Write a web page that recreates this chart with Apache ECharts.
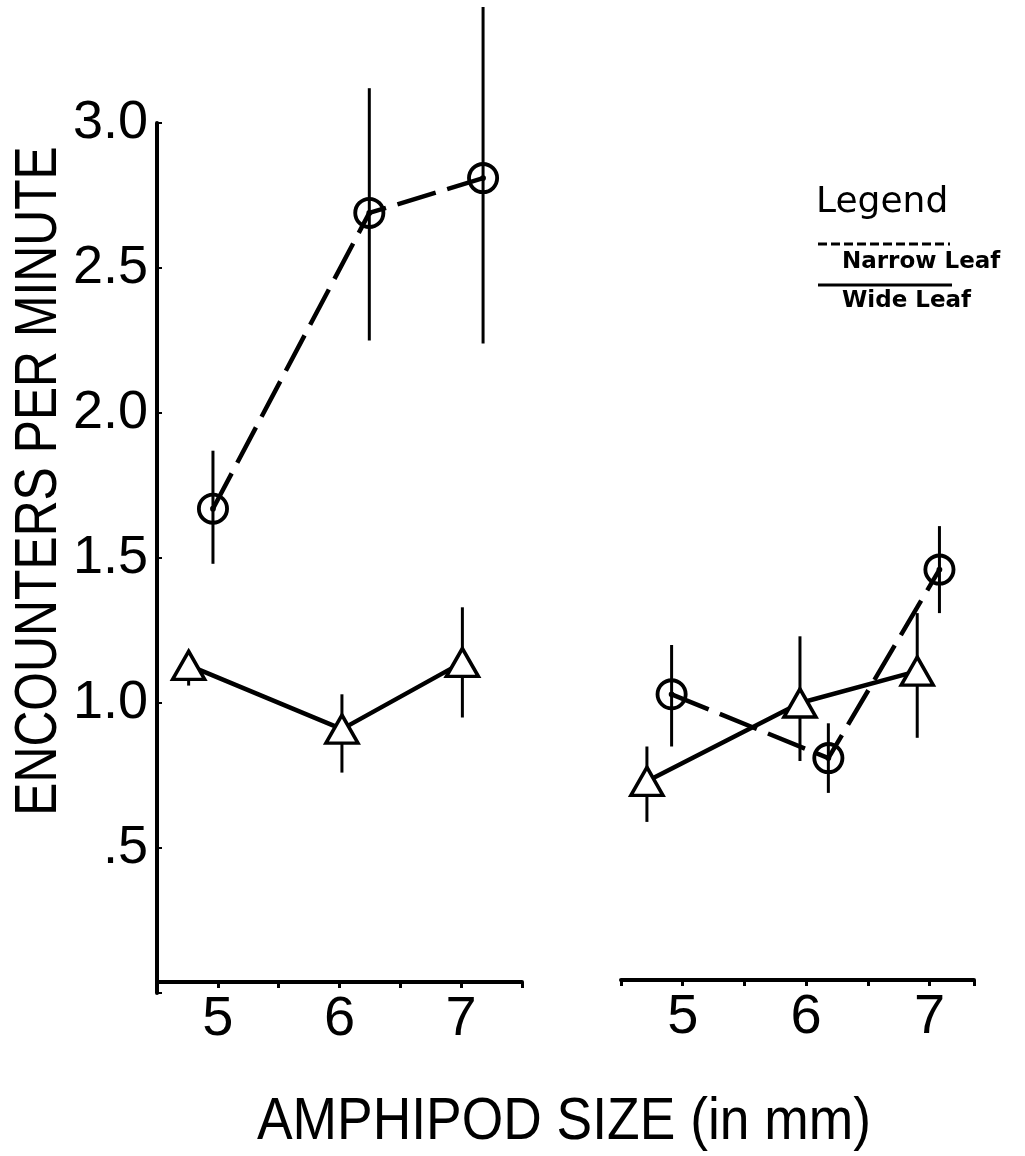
<!DOCTYPE html>
<html>
<head>
<meta charset="utf-8">
<script src="https://cdn.jsdelivr.net/npm/echarts@6/dist/echarts.min.js"></script>
<style>
  html, body { margin: 0; padding: 0; background: #fff; }
  #chart { width: 1025px; height: 1156px; }
</style>
</head>
<body>
<div id="chart"></div>
<script>
// ---- Data ----
var yTickValues = [0.5, 1.0, 1.5, 2.0, 2.5, 3.0];
var xTickLabels = [5, 6, 7];

// Left panel
var narrowLeftX    = [4.96, 6.245, 7.18];
var narrowLeftY    = [1.67, 2.69, 2.81];
var narrowLeftLow  = [1.48, 2.25, 2.24];
var narrowLeftHigh = [1.87, 3.12, 3.40];

var wideLeftX    = [4.76, 6.02, 7.01];
var wideLeftY    = [1.13, 0.91, 1.14];
var wideLeftLow  = [1.06, 0.76, 0.95];
var wideLeftHigh = [1.18, 1.03, 1.33];

// Right panel
var narrowRightX    = [4.91, 6.18, 7.08];
var narrowRightY    = [1.03, 0.81, 1.46];
var narrowRightLow  = [0.85, 0.69, 1.31];
var narrowRightHigh = [1.20, 0.93, 1.61];

var wideRightX    = [4.71, 5.95, 6.90];
var wideRightY    = [0.73, 1.00, 1.11];
var wideRightLow  = [0.59, 0.80, 0.88];
var wideRightHigh = [0.85, 1.23, 1.31];

var yTitle = 'ENCOUNTERS PER MINUTE';
var xTitle = 'AMPHIPOD SIZE (in mm)';
var legendTitle = 'Legend';
var narrowName = 'Narrow Leaf';
var wideName = 'Wide Leaf';

// ---- Build ----
var MAIN_FONT = "'Liberation Sans', Arial, Helvetica, sans-serif";
var LEGEND_FONT = "'DejaVu Sans', 'Liberation Sans', sans-serif";

function pts(xs, ys) { return xs.map(function (x, i) { return [x, ys[i]]; }); }
function bars(xs, lo, hi) { return xs.map(function (x, i) { return [x, lo[i], hi[i]]; }); }

var circlePath = 'path://M50,0A50,50,0,1,1,50,100A50,50,0,1,1,50,0Z' +
                 'M50,12A38,38,0,1,0,50,88A38,38,0,1,0,50,12Z' +
                 'M50,41A9,9,0,1,1,50,59A9,9,0,1,1,50,41Z';

function errRender(params, api) {
  var x = api.value(0), lo = api.value(1), hi = api.value(2);
  var p1 = api.coord([x, lo]);
  var p2 = api.coord([x, hi]);
  return {
    type: 'line',
    shape: { x1: p1[0], y1: p1[1], x2: p2[0], y2: p2[1] },
    style: { stroke: '#000', lineWidth: 3 }
  };
}

function intLabel(v) {
  var r = Math.round(v);
  return (Math.abs(v - r) < 1e-6 && xTickLabels.indexOf(r) >= 0) ? String(r) : '';
}
function yLabel(v) {
  if (yTickValues.indexOf(Math.round(v * 10) / 10) < 0) return '';
  if (Math.abs(v - 0.5) < 1e-6) return '.5';
  return v.toFixed(1);
}

function narrowSeries(idx, data) {
  return {
    type: 'line', xAxisIndex: idx, yAxisIndex: idx, data: data,
    symbol: circlePath, symbolSize: 32, z: 3,
    itemStyle: { color: '#000' },
    lineStyle: { color: '#000', width: 4.5, type: [40, 12] },
    emphasis: { disabled: true }
  };
}
function wideSeries(idx, data) {
  return {
    type: 'line', xAxisIndex: idx, yAxisIndex: idx, data: data,
    symbol: 'triangle', symbolSize: [32, 28], z: 4,
    itemStyle: { color: '#fff', borderColor: '#000', borderWidth: 3.5 },
    lineStyle: { color: '#000', width: 4.5, type: 'solid' },
    emphasis: { disabled: true }
  };
}
function errSeries(idx, data) {
  return {
    type: 'custom', xAxisIndex: idx, yAxisIndex: idx, data: data,
    renderItem: errRender, encode: { x: 0, y: [1, 2] }, z: 2, clip: false
  };
}

var chart = echarts.init(document.getElementById('chart'), null, { renderer: 'canvas' });

var xLabelStyle = { formatter: intLabel, margin: 10, color: '#000', fontSize: 56, fontFamily: MAIN_FONT };

var option = {
  animation: false,
  backgroundColor: '#fff',
  grid: [
    { left: 157, top: 123, width: 365, height: 870, containLabel: false, outerBoundsMode: 'none' },
    { left: 621, top: 123, width: 353, height: 870, containLabel: false, outerBoundsMode: 'none' }
  ],
  xAxis: [
    {
      gridIndex: 0, type: 'value', min: 4.5, max: 7.5, interval: 0.5, offset: -11,
      axisLine: { onZero: false, lineStyle: { color: '#000', width: 4 } },
      axisTick: { show: true, inside: false, length: 6, lineStyle: { color: '#000', width: 3 } },
      axisLabel: xLabelStyle,
      splitLine: { show: false }
    },
    {
      gridIndex: 1, type: 'value', min: 4.5, max: 7.36, interval: 0.5, offset: -13,
      axisLine: { onZero: false, lineStyle: { color: '#000', width: 4 } },
      axisTick: { show: true, inside: false, length: 6, lineStyle: { color: '#000', width: 3 } },
      axisLabel: xLabelStyle,
      splitLine: { show: false }
    }
  ],
  yAxis: [
    {
      gridIndex: 0, type: 'value', min: 0, max: 3, interval: 0.5,
      axisLine: { show: true, onZero: false, lineStyle: { color: '#000', width: 4 } },
      axisTick: { show: true, inside: true, length: 5, lineStyle: { color: '#000', width: 2 } },
      axisLabel: { formatter: yLabel, margin: 9, color: '#000', fontSize: 54, fontFamily: MAIN_FONT },
      splitLine: { show: false }
    },
    {
      gridIndex: 1, type: 'value', min: 0, max: 3, interval: 0.5, show: false,
      splitLine: { show: false }
    }
  ],
  series: [
    errSeries(0, bars(narrowLeftX, narrowLeftLow, narrowLeftHigh)),
    errSeries(0, bars(wideLeftX, wideLeftLow, wideLeftHigh)),
    errSeries(1, bars(narrowRightX, narrowRightLow, narrowRightHigh)),
    errSeries(1, bars(wideRightX, wideRightLow, wideRightHigh)),
    narrowSeries(0, pts(narrowLeftX, narrowLeftY)),
    wideSeries(0, pts(wideLeftX, wideLeftY)),
    narrowSeries(1, pts(narrowRightX, narrowRightY)),
    wideSeries(1, pts(wideRightX, wideRightY))
  ],
  graphic: [
    {
      type: 'text', x: 39, y: 481, rotation: Math.PI / 2, scaleX: 0.83, scaleY: 1,
      style: { text: yTitle, font: '60px ' + MAIN_FONT, fill: '#000', textAlign: 'center', textVerticalAlign: 'middle' }
    },
    {
      type: 'text', x: 564, y: 1122, scaleX: 0.89, scaleY: 1,
      style: { text: xTitle, font: '60px ' + MAIN_FONT, fill: '#000', textAlign: 'center', textVerticalAlign: 'middle' }
    },
    {
      type: 'text', x: 816, y: 203,
      style: { text: legendTitle, font: '36px ' + LEGEND_FONT, fill: '#000', textAlign: 'left', textVerticalAlign: 'middle' }
    },
    {
      type: 'line', shape: { x1: 818, y1: 244, x2: 950, y2: 244 },
      style: { stroke: '#000', lineWidth: 3, lineDash: [9, 4] }
    },
    {
      type: 'text', x: 842, y: 262,
      style: { text: narrowName, font: 'bold 23px ' + LEGEND_FONT, fill: '#000', textAlign: 'left', textVerticalAlign: 'middle' }
    },
    {
      type: 'line', shape: { x1: 818, y1: 285, x2: 952, y2: 285 },
      style: { stroke: '#000', lineWidth: 3 }
    },
    {
      type: 'text', x: 842, y: 301,
      style: { text: wideName, font: 'bold 23px ' + LEGEND_FONT, fill: '#000', textAlign: 'left', textVerticalAlign: 'middle' }
    }
  ]
};
chart.setOption(option);
</script>
</body>
</html>
